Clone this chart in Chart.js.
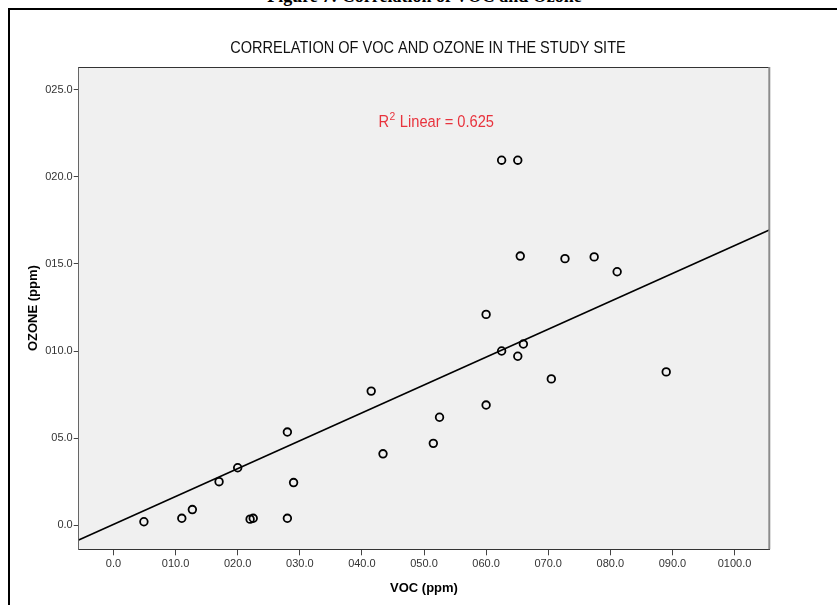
<!DOCTYPE html>
<html>
<head>
<meta charset="utf-8">
<script src="https://cdn.jsdelivr.net/npm/chart.js@4"></script>
<style>
body { margin: 0; background: #fff; width: 837px; height: 605px; overflow: hidden; position: relative; }
#caption { position: absolute; left: 6px; width: 837px; top: -13.5px; text-align: center;
  font: bold 18px "Liberation Serif", "Times New Roman", serif; line-height: 18px; }
#frame { position: absolute; left: 8px; top: 8px; width: 850px; height: 620px;
  border-left: 2px solid #000; border-top: 2px solid #000; }
#wrap { position: absolute; left: 0; top: 0; width: 837px; height: 605px; }
</style>
</head>
<body>
<div id="caption">Figure 7: Correlation of VOC and Ozone</div>
<div id="frame"></div>
<div id="wrap"><canvas id="graficoVocOzono"></canvas></div>
<script>
// valores
const vocPpm   = [4.9, 11.0, 12.7, 17.0, 20.0, 22.0, 22.5, 28.0, 28.0, 29.0, 41.5, 43.4, 51.5, 52.5,
                  60.0, 60.0, 62.5, 65.1, 62.5, 65.1, 66.0, 65.5, 70.5, 72.7, 77.4, 81.1, 89.0];
const ozonePpm = [0.2, 0.4, 0.9, 2.5, 3.3, 0.35, 0.4, 5.35, 0.4, 2.45, 7.7, 4.1, 4.7, 6.2,
                  12.1, 6.9, 20.95, 20.95, 10.0, 9.7, 10.4, 15.45, 8.4, 15.3, 15.4, 14.55, 8.8];

// recta de ajuste (linea de SPSS)
const fitSlope = 0.16;
const fitIntercept = 0.05;
const rSquared = '0.625';
const rLabelAt = [51.9, 22.86];

const chartTitle = 'CORRELATION OF VOC AND OZONE IN THE STUDY SITE';

const xTickValues = [0, 10, 20, 30, 40, 50, 60, 70, 80, 90, 100];
const xTickLabels = ['0.0', '010.0', '020.0', '030.0', '040.0', '050.0', '060.0', '070.0', '080.0', '090.0', '0100.0'];
const yTickValues = [0, 5, 10, 15, 20, 25];
const yTickLabels = ['0.0', '05.0', '010.0', '015.0', '020.0', '025.0'];

const xMin = -5.6, xMax = 105.6;
const yMin = -1.38, yMax = 26.3;

const puntos = vocPpm.map((v, i) => ({x: v, y: ozonePpm[i]}));
const recta = [xMin, xMax].map(v => ({x: v, y: fitSlope * v + fitIntercept}));

const tickFont = {family: 'Arial, "Liberation Sans", sans-serif', size: 11};
const titleFont = {family: 'Arial, "Liberation Sans", sans-serif', size: 13, weight: 'bold'};

const fondo = {
  id: 'fondo',
  beforeDraw(chart) {
    const {ctx, chartArea: a} = chart;
    ctx.save();
    ctx.fillStyle = '#f0f0f0';
    ctx.fillRect(a.left, a.top, a.right - a.left, a.bottom - a.top);
    ctx.restore();
  },
  afterDraw(chart) {
    const {ctx, chartArea: a} = chart;
    ctx.save();
    ctx.strokeStyle = '#333';
    ctx.lineWidth = 1;
    ctx.beginPath();
    ctx.moveTo(a.left, a.top + 0.5);
    ctx.lineTo(a.right, a.top + 0.5);
    ctx.stroke();
    ctx.strokeStyle = '#8c8c8c';
    ctx.lineWidth = 2;
    ctx.beginPath();
    ctx.moveTo(a.right, a.top);
    ctx.lineTo(a.right, a.bottom);
    ctx.stroke();
    // titulo estrecho (tipo Arial Narrow)
    ctx.fillStyle = '#111';
    ctx.font = '17px Arial, "Liberation Sans", sans-serif';
    ctx.textAlign = 'center';
    ctx.textBaseline = 'alphabetic';
    ctx.translate((a.left + a.right) / 2 + 4, 53);
    ctx.scale(0.855, 1);
    ctx.fillText(chartTitle, 0, 0);
    ctx.restore();
  }
};

const etiquetaR2 = {
  id: 'etiquetaR2',
  afterDatasetsDraw(chart) {
    const {ctx, scales: {x, y}} = chart;
    const px = x.getPixelForValue(rLabelAt[0]);
    const py = y.getPixelForValue(rLabelAt[1]);
    const big = '16.3px Arial, "Liberation Sans", sans-serif';
    const small = '11.5px Arial, "Liberation Sans", sans-serif';
    const rest = ' Linear = ' + rSquared;
    ctx.save();
    ctx.fillStyle = '#e8333d';
    ctx.textBaseline = 'alphabetic';
    ctx.translate(px, py);
    ctx.scale(0.9, 1);
    ctx.font = big;
    const w1 = ctx.measureText('R').width;
    const w3 = ctx.measureText(rest).width;
    ctx.font = small;
    const w2 = ctx.measureText('2').width;
    let cx = -(w1 + w2 + w3) / 2;
    ctx.font = big;
    ctx.fillText('R', cx, 0);
    cx += w1;
    ctx.font = small;
    ctx.fillText('2', cx + 0.5, -6.5);
    cx += w2 + 1;
    ctx.font = big;
    ctx.fillText(rest, cx, 0);
    ctx.restore();
  }
};

new Chart(document.getElementById('graficoVocOzono'), {
  data: {
    datasets: [
      {
        type: 'scatter',
        label: 'OZONE',
        data: puntos,
        borderColor: '#000',
        backgroundColor: 'rgba(0,0,0,0)',
        pointRadius: 3.8,
        pointBorderWidth: 1.8,
      },
      {
        type: 'line',
        label: 'Linear',
        data: recta,
        borderColor: '#000',
        borderWidth: 1.6,
        pointRadius: 0,
        fill: false,
      }
    ]
  },
  options: {
    responsive: true,
    maintainAspectRatio: false,
    animation: false,
    layout: {padding: {left: 0, right: 67.7, top: 67, bottom: 0}},
    plugins: {
      legend: {display: false},
      tooltip: {enabled: false},
      title: {display: false}
    },
    scales: {
      x: {
        type: 'linear',
        min: xMin,
        max: xMax,
        afterBuildTicks: s => { s.ticks = xTickValues.map(v => ({value: v})); },
        afterFit: s => { s.height = 55.7; },
        grid: {drawOnChartArea: false, drawTicks: true, tickLength: 6, color: '#444'},
        border: {display: true, color: '#333', width: 1},
        ticks: {
          font: tickFont, color: '#333', padding: 2, maxRotation: 0, autoSkip: false,
          callback: v => xTickLabels[xTickValues.indexOf(v)]
        },
        title: {display: true, text: 'VOC (ppm)', color: '#000', font: titleFont, padding: {top: 0, bottom: 8.9}}
      },
      y: {
        type: 'linear',
        min: yMin,
        max: yMax,
        afterBuildTicks: s => { s.ticks = yTickValues.map(v => ({value: v})); },
        afterFit: s => { s.width = 78.7; },
        grid: {drawOnChartArea: false, drawTicks: true, tickLength: 5, color: '#444'},
        border: {display: true, color: '#666', width: 1},
        ticks: {
          font: tickFont, color: '#333', padding: 1, autoSkip: false,
          callback: v => yTickLabels[yTickValues.indexOf(v)]
        },
        title: {display: true, text: 'OZONE (ppm)', color: '#000', font: titleFont, padding: {top: 25.2, bottom: 0}}
      }
    }
  },
  plugins: [fondo, etiquetaR2]
});
</script>
</body>
</html>
